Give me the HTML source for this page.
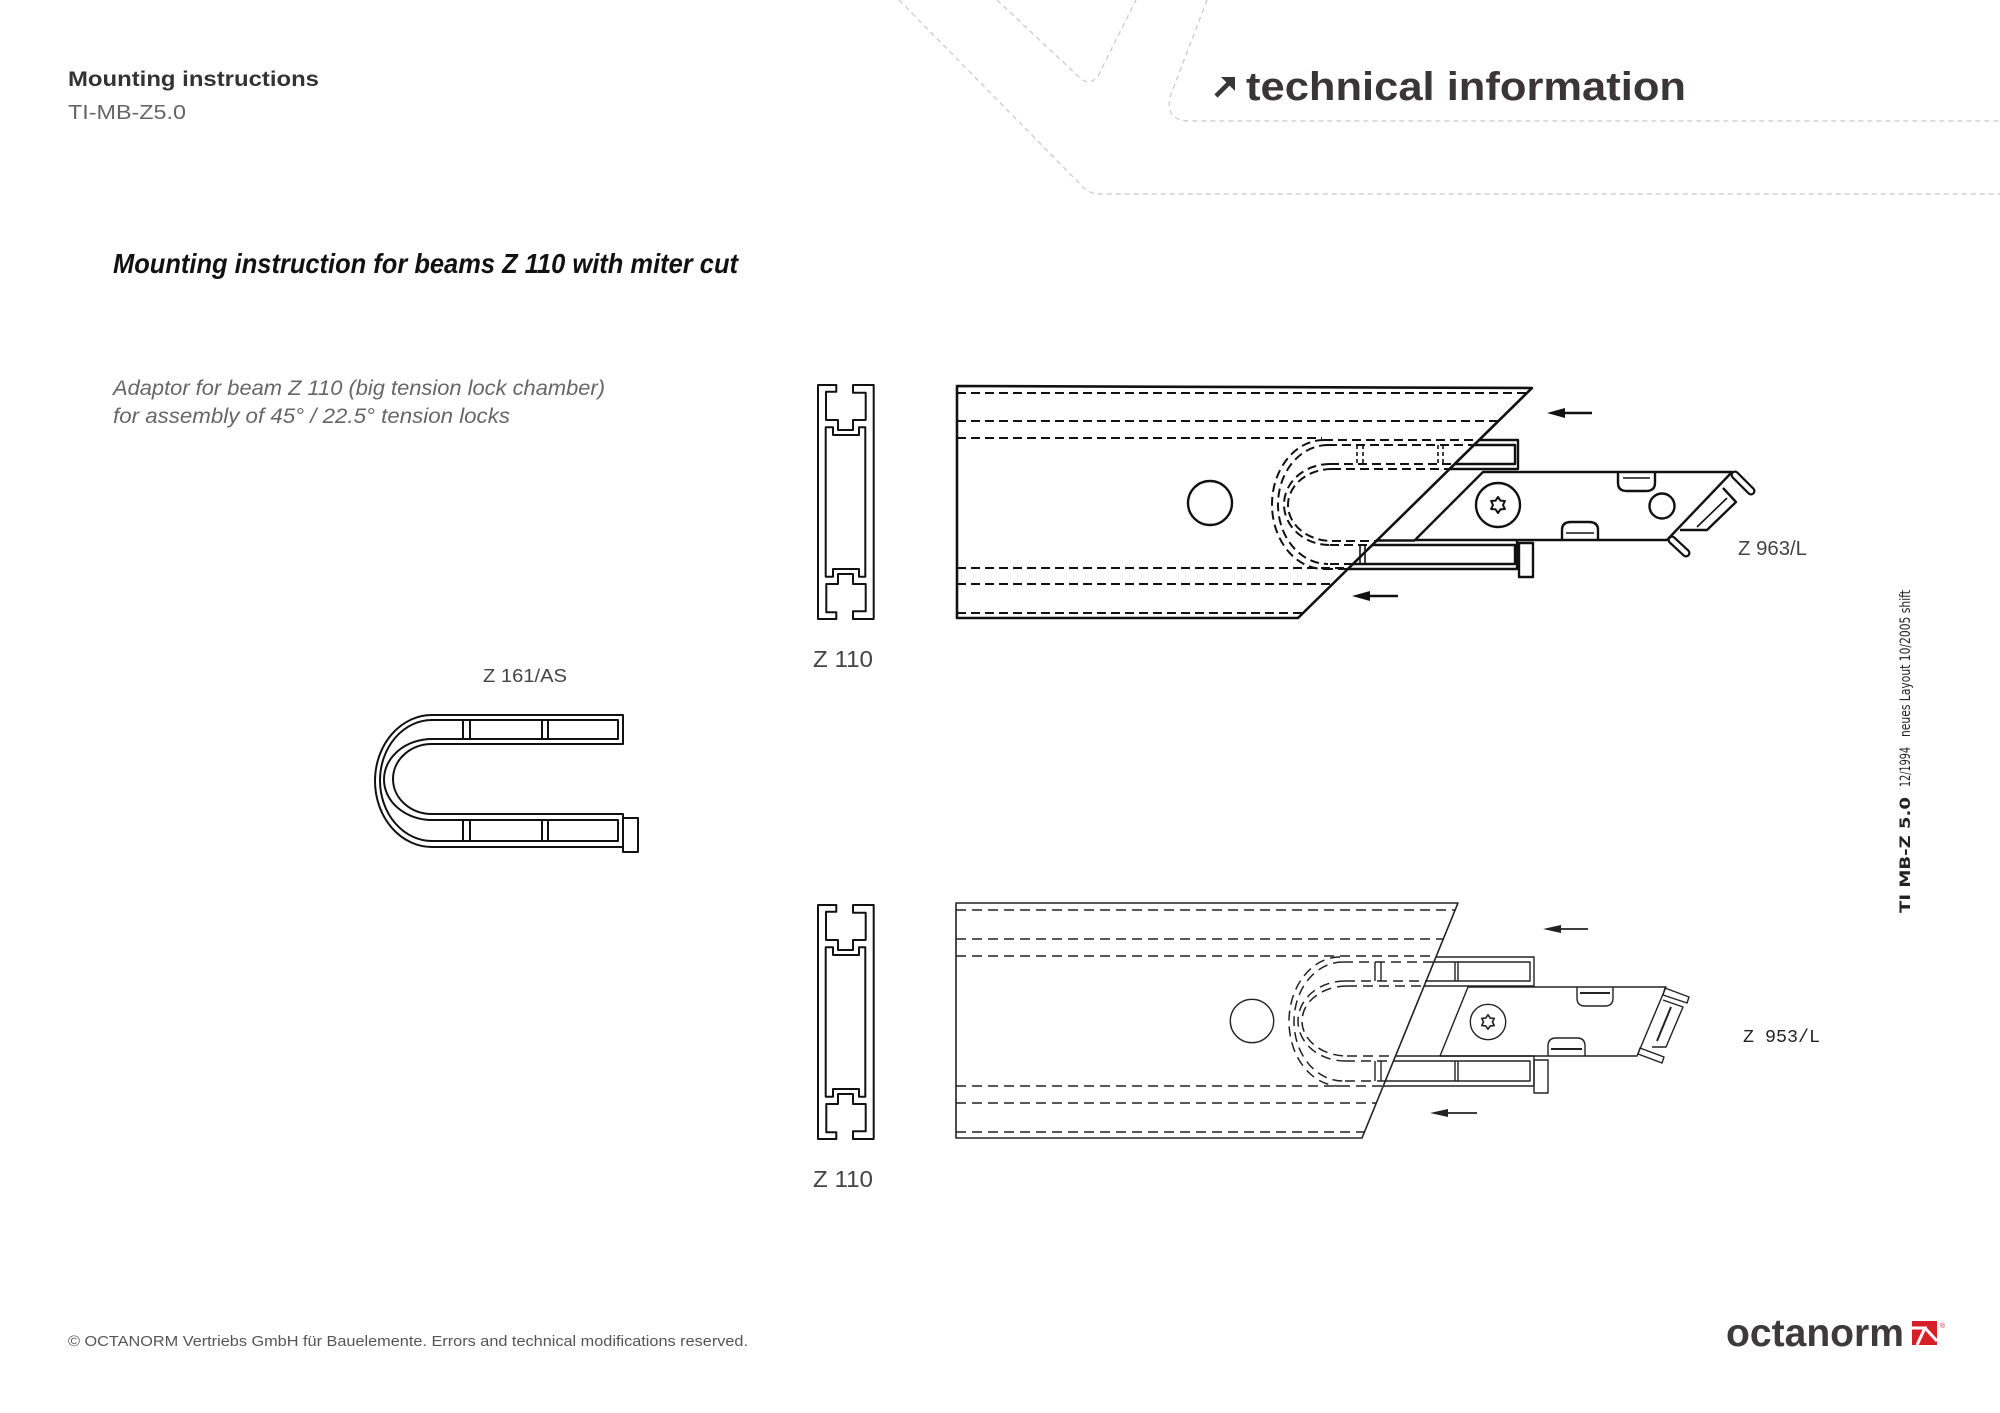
<!DOCTYPE html>
<html>
<head>
<meta charset="utf-8">
<style>
  html,body{margin:0;padding:0;background:#fff;}
  svg{display:block;}
</style>
</head>
<body>
<svg width="2000" height="1413" viewBox="0 0 2000 1413" xmlns="http://www.w3.org/2000/svg">
  <rect x="0" y="0" width="2000" height="1413" fill="#fff"/>

  <!-- header decorative dashed lines -->
  <g fill="none" stroke="#c8c8c8" stroke-width="1.2" stroke-dasharray="5 4">
    <path d="M997,0 L1079,77 Q1089,87 1098,76 L1136,0"/>
    <path d="M899,0 L1083,187 Q1090,194 1099,194 L2000,194"/>
    <path d="M1207,0 L1170,97 Q1165,121 1190,121 L2000,121"/>
  </g>

  <!-- header texts -->
  <text x="68" y="86" font-family="Liberation Sans, sans-serif" font-weight="bold" font-size="21" fill="#333" textLength="251" lengthAdjust="spacingAndGlyphs">Mounting instructions</text>
  <text x="68" y="119" font-family="Liberation Sans, sans-serif" font-size="20" fill="#666" textLength="118" lengthAdjust="spacingAndGlyphs">TI-MB-Z5.0</text>

  <!-- technical information -->
  <g fill="#3a3536">
    <path d="M1216,96 L1229,83" stroke="#3a3536" stroke-width="4.5" fill="none"/>
    <polygon points="1221,77 1235,77 1235,91"/>
  </g>
  <text x="1246" y="100" font-family="Liberation Sans, sans-serif" font-weight="bold" font-size="40" fill="#3a3536" textLength="440" lengthAdjust="spacingAndGlyphs">technical information</text>

  <!-- title -->
  <text x="113" y="273" font-family="Liberation Sans, sans-serif" font-weight="bold" font-style="italic" font-size="28" fill="#111" textLength="625" lengthAdjust="spacingAndGlyphs">Mounting instruction for beams Z 110 with miter cut</text>

  <!-- description -->
  <text x="113" y="395" font-family="Liberation Sans, sans-serif" font-style="italic" font-size="21" fill="#666" textLength="492" lengthAdjust="spacingAndGlyphs">Adaptor for beam Z 110 (big tension lock chamber)</text>
  <text x="113" y="423" font-family="Liberation Sans, sans-serif" font-style="italic" font-size="21" fill="#666" textLength="397" lengthAdjust="spacingAndGlyphs">for assembly of 45° / 22.5° tension locks</text>

  <!-- ===== Z110 profiles ===== -->
  <g fill="none" stroke="#111" stroke-width="2" stroke-linejoin="round">
    <g transform="translate(818,385)">
      <path d="M18.3,0 H0 V234 H18.3 V227.3 H8.3 V199 H20 V189 H35 V199 H47.7 V226.3 H35 V234 H55.7 V0 H35 V7.7 H47.7 V35 H35 V45 H20 V35 H8 V6.7 H18.3 Z"/>
      <path d="M7.7,42.3 H15 V50 H41 V42.3 H47.3 V191.7 H41 V184 H15 V191.7 H7.7 Z"/>
    </g>
    <g transform="translate(818,905)">
      <path d="M18.3,0 H0 V234 H18.3 V227.3 H8.3 V199 H20 V189 H35 V199 H47.7 V226.3 H35 V234 H55.7 V0 H35 V7.7 H47.7 V35 H35 V45 H20 V35 H8 V6.7 H18.3 Z"/>
      <path d="M7.7,42.3 H15 V50 H41 V42.3 H47.3 V191.7 H41 V184 H15 V191.7 H7.7 Z"/>
    </g>
  </g>
  <text x="813" y="667" font-family="Liberation Sans, sans-serif" font-size="23" fill="#444" textLength="60" lengthAdjust="spacingAndGlyphs">Z 110</text>
  <text x="813" y="1187" font-family="Liberation Sans, sans-serif" font-size="23" fill="#444" textLength="60" lengthAdjust="spacingAndGlyphs">Z 110</text>

  <!-- ===== Z 161/AS U adaptor ===== -->
  <text x="483" y="682" font-family="Liberation Sans, sans-serif" font-size="18" fill="#444" textLength="84" lengthAdjust="spacingAndGlyphs">Z 161/AS</text>
  <g fill="none" stroke="#111" stroke-width="2" stroke-linejoin="round">
    <path d="M432,715 H623 V744 H432"/>
    <path d="M432,720 H618 V739 H432"/>
    <path d="M432,814 H623 V847 H432"/>
    <path d="M432,820 H618 V841 H432"/>
    <rect x="623" y="818" width="15" height="34"/>
    <path d="M432,715 A57,66 0 0 0 432,847"/>
    <path d="M432,720 A52,60.5 0 0 0 432,841"/>
    <path d="M432,739 A48,40.5 0 0 0 432,820"/>
    <path d="M432,744 A39,35 0 0 0 432,814"/>
    <path d="M463,720 V739 M470,720 V739 M542,720 V739 M548,720 V739"/>
    <path d="M463,820 V841 M470,820 V841 M542,820 V841 M548,820 V841"/>
  </g>

  <!-- ===== TOP ASSEMBLY (Z 963/L) ===== -->
  <g fill="none" stroke="#111" stroke-linejoin="round">
    <path d="M957,386 L1532,388 L1298,618 L957,618 Z" stroke-width="2.6"/>
    <g stroke-width="2" stroke-dasharray="9 5">
      <path d="M957,393 H1527"/>
      <path d="M957,421 H1499"/>
      <path d="M957,438 H1322"/>
      <path d="M957,568 H1349"/>
      <path d="M957,584 H1333"/>
      <path d="M957,613 H1303"/>
      <path d="M1324,440 A52,64.5 0 0 0 1324,569"/>
      <path d="M1328,445 A50,59.5 0 0 0 1328,564"/>
      <path d="M1330,464 A46,40.5 0 0 0 1330,545"/>
      <path d="M1332,469 A44,36 0 0 0 1332,541"/>
      <path d="M1324,440 H1479"/>
      <path d="M1328,445 H1474"/>
      <path d="M1330,464 H1455"/>
      <path d="M1332,469 H1450"/>
      <path d="M1332,541 H1376"/>
      <path d="M1330,545 H1372"/>
      <path d="M1330,564 H1353"/>
      <path d="M1324,569 H1348"/>
    </g>
    <g stroke-width="1.6" stroke-dasharray="4 3">
      <path d="M1357,445 V464 M1363,445 V464 M1438,445 V464 M1443,445 V464"/>
    </g>
    <path d="M1360,545 V564 M1365,545 V564" stroke-width="1.6"/>
    <circle cx="1210" cy="503" r="22" stroke-width="2.4"/>
    <g stroke-width="2.4">
      <path d="M1479,440 H1518 V469 H1450"/>
      <path d="M1474,445 H1515 V464 H1455"/>
      <path d="M1376,540.5 H1415"/>
      <path d="M1517,541 V569 H1348"/>
      <path d="M1372,545 H1515 V564 H1353"/>
      <rect x="1519" y="543" width="14" height="34"/>
      <path d="M1483,472 H1732 L1667,540 H1415 Z"/>
      <circle cx="1498" cy="505" r="22"/>
      <path d="M1618,472 V483 Q1618,491 1627,491 H1646 Q1655,491 1655,483 V472"/>
      <circle cx="1662" cy="506" r="12.5"/>
      <path d="M1562,540 V530 Q1562,522 1571,522 H1589 Q1598,522 1598,530 V540"/>
      <path d="M1723,488 L1736,502 L1707,530 H1680"/>
    </g>
    <g stroke-width="1.6">
      <path d="M1623,478 H1650"/>
      <path d="M1566,533 H1594"/>
      <path d="M1727,498 L1697,527"/>
    </g>
    <path transform="translate(1498,505)" stroke-width="2" d="M0,-8 L2.5,-4.33 L6.93,-4 L5,0 L6.93,4 L2.5,4.33 L0,8 L-2.5,4.33 L-6.93,4 L-5,0 L-6.93,-4 L-2.5,-4.33 Z"/>
    <path d="M1735,475 L1751,491" stroke-width="9" stroke-linecap="round"/>
    <path d="M1735,475 L1751,491" stroke="#fff" stroke-width="4.5" stroke-linecap="round"/>
    <path d="M1672,540 L1686,553" stroke-width="9" stroke-linecap="round"/>
    <path d="M1672,540 L1686,553" stroke="#fff" stroke-width="4.5" stroke-linecap="round"/>
  </g>
  <g stroke="#111" fill="#111">
    <path d="M1560,413 H1592" stroke-width="2.5"/>
    <polygon points="1547,413 1565,408 1565,418" stroke="none"/>
    <path d="M1365,596 H1398" stroke-width="2.5"/>
    <polygon points="1352,596 1370,591 1370,601" stroke="none"/>
  </g>
  <text x="1738" y="555" font-family="Liberation Sans, sans-serif" font-size="20" fill="#444" textLength="69" lengthAdjust="spacingAndGlyphs">Z 963/L</text>

  <!-- ===== BOTTOM ASSEMBLY (Z 953/L) ===== -->
  <g fill="none" stroke="#222" stroke-linejoin="round" stroke-width="1.4">
    <path d="M956,903 H1458 L1362,1138 H956 Z" stroke-width="1.6"/>
    <g stroke-width="1.5" stroke-dasharray="10 6">
      <path d="M956,910 H1455"/>
      <path d="M956,939 H1443"/>
      <path d="M956,956 H1436"/>
      <path d="M956,1086 H1383"/>
      <path d="M956,1103 H1376"/>
      <path d="M956,1132 H1364"/>
      <path d="M1340,957 A51,64.5 0 0 0 1340,1086"/>
      <path d="M1343,962 A49,59.5 0 0 0 1343,1081"/>
      <path d="M1345,981 A47,40 0 0 0 1345,1061"/>
      <path d="M1347,986 A45,35 0 0 0 1347,1056"/>
      <path d="M1343,962 H1434"/>
      <path d="M1345,981 H1426"/>
      <path d="M1347,986 H1424"/>
      <path d="M1347,1056 H1395"/>
      <path d="M1345,1061 H1393"/>
      <path d="M1345,1081 H1385"/>
    </g>
    <path d="M1375,962 V981 M1381,962 V981 M1375,1061 V1081 M1381,1061 V1081"/>
    <circle cx="1252" cy="1021" r="21.7"/>
    <path d="M1436,957 H1534 V986 H1424"/>
    <path d="M1434,962 H1530 V981 H1426"/>
    <path d="M1395,1056 H1534 V1086 H1383"/>
    <path d="M1393,1061 H1530 V1081 H1385"/>
    <path d="M1455,962 V981 M1458,962 V981 M1455,1061 V1081 M1458,1061 V1081"/>
    <rect x="1534" y="1060" width="14" height="33"/>
    <path d="M1468,987 H1666 L1637,1056 H1440 Z"/>
    <circle cx="1488" cy="1022" r="17.7"/>
    <path transform="translate(1488,1022) scale(0.9)" stroke-width="1.8" d="M0,-8 L2.5,-4.33 L6.93,-4 L5,0 L6.93,4 L2.5,4.33 L0,8 L-2.5,4.33 L-6.93,4 L-5,0 L-6.93,-4 L-2.5,-4.33 Z"/>
    <path d="M1577,987 V998 Q1577,1006 1585,1006 H1605 Q1613,1006 1613,998 V987"/>
    <path d="M1580,993 H1610" stroke-width="2"/>
    <path d="M1548,1056 V1046 Q1548,1038 1556,1038 H1577 Q1585,1038 1585,1046 V1056"/>
    <path d="M1551,1049 H1582" stroke-width="2"/>
    <polygon points="1665,988 1689,997 1687,1003 1663,995"/>
    <polygon points="1640,1048 1664,1057 1662,1063 1638,1054"/>
    <path d="M1663,1000 L1683,1007 L1666,1047 H1652"/>
    <path d="M1671,1007 L1657,1041" stroke-width="2"/>
  </g>
  <g stroke="#222" fill="#222">
    <path d="M1556,929 H1588" stroke-width="1.7"/>
    <polygon points="1543,929 1561,925 1561,933" stroke="none"/>
    <path d="M1443,1113 H1477" stroke-width="1.7"/>
    <polygon points="1430,1113 1448,1109 1448,1117" stroke="none"/>
  </g>
  <text x="1743" y="1042" font-family="Liberation Mono, monospace" font-size="18" fill="#222" textLength="77" lengthAdjust="spacingAndGlyphs">Z 953/L</text>

  <!-- vertical side text -->
  <g transform="translate(1910,913) rotate(-90)" font-family="DejaVu Sans, Liberation Sans, sans-serif" font-size="14" fill="#222">
    <text x="0" y="0" font-weight="bold" textLength="116" lengthAdjust="spacingAndGlyphs">TI MB-Z 5.0</text>
    <text x="126" y="0" textLength="40" lengthAdjust="spacingAndGlyphs">12/1994</text>
    <text x="176" y="0" textLength="147" lengthAdjust="spacingAndGlyphs">neues Layout 10/2005 shift</text>
  </g>

  <!-- footer -->
  <text x="68" y="1346" font-family="Liberation Sans, sans-serif" font-size="15" fill="#555" textLength="680" lengthAdjust="spacingAndGlyphs">© OCTANORM Vertriebs GmbH für Bauelemente. Errors and technical modifications reserved.</text>
  <text x="1726" y="1346" font-family="Liberation Sans, sans-serif" font-weight="bold" font-size="39" fill="#3d3a3b" textLength="178" lengthAdjust="spacingAndGlyphs">octanorm</text>
  <rect x="1912" y="1321" width="25" height="24" fill="#d71f2a"/>
  <path d="M1912,1328 H1925 L1917,1345 M1925,1328 L1937,1341" stroke="#fff" stroke-width="3" fill="none"/>
  <text x="1940" y="1328" font-family="Liberation Sans, sans-serif" font-size="7" fill="#d71f2a">®</text>
</svg>
</body>
</html>
